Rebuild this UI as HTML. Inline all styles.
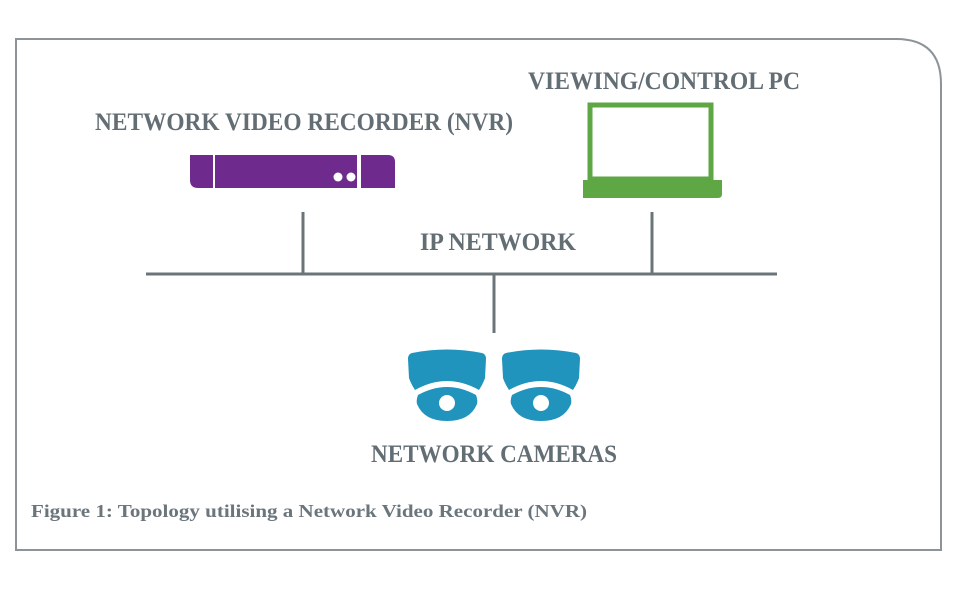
<!DOCTYPE html>
<html><head><style>
body{margin:0;background:#fff;width:960px;height:592px;overflow:hidden}
svg text{font-family:"Liberation Serif",serif;font-weight:bold;fill:#626d74}
</style></head><body>
<svg width="960" height="592" viewBox="0 0 960 592">
<path d="M16 39 H896 Q941 39 941 84 V550 H16 Z" fill="none" stroke="#8d9397" stroke-width="2"/>
<text x="95" y="130" font-size="25" textLength="418" lengthAdjust="spacingAndGlyphs">NETWORK VIDEO RECORDER (NVR)</text>
<text x="528" y="89" font-size="25" textLength="272" lengthAdjust="spacingAndGlyphs">VIEWING/CONTROL PC</text>
<text x="420" y="250" font-size="25" textLength="156" lengthAdjust="spacingAndGlyphs">IP NETWORK</text>
<text x="371" y="462" font-size="25" textLength="246" lengthAdjust="spacingAndGlyphs">NETWORK CAMERAS</text>
<text x="31" y="517" font-size="18" textLength="556" lengthAdjust="spacingAndGlyphs" style="font-weight:bold;fill:#6b757c">Figure 1: Topology utilising a Network Video Recorder (NVR)</text>
<!-- NVR -->
<path d="M190 155 H213 V188 H198 Q190 188 190 180 Z" fill="#6e2b8d"/>
<rect x="215" y="155" width="142" height="33" fill="#6e2b8d"/>
<path d="M361 155 H388 Q395 155 395 162 V188 H361 Z" fill="#6e2b8d"/>
<circle cx="338" cy="177" r="4.5" fill="#fff"/><circle cx="351" cy="177" r="4.5" fill="#fff"/>
<!-- laptop -->
<rect x="590" y="105" width="121" height="74" fill="none" stroke="#5fa644" stroke-width="5"/>
<path d="M583 180 H722 V194 Q722 198 718 198 H583 Z" fill="#5fa644"/>
<!-- network lines -->
<g stroke="#6b7479" stroke-width="3">
<line x1="146" y1="274" x2="777" y2="274"/>
<line x1="303" y1="212" x2="303" y2="274"/>
<line x1="652" y1="212" x2="652" y2="274"/>
<line x1="494" y1="274" x2="494" y2="333"/>
</g>
<!-- cameras -->
<g id="cam" fill="#2094bd">
<path d="M412 353 Q447 346 482 353 Q486 354 486 359 L485 378 Q483 384 479 390 Q447 372 415 390 Q411 384 409 378 L408 359 Q408 354 412 353 Z"/>
<path d="M418 395 Q447 379 476 395 Q478 400 477 404 Q470 421 447 421 Q424 421 417 404 Q416 400 418 395 Z"/>
<circle cx="447" cy="403" r="8" fill="#fff"/>
</g>
<use href="#cam" x="94"/>
</svg>
</body></html>
